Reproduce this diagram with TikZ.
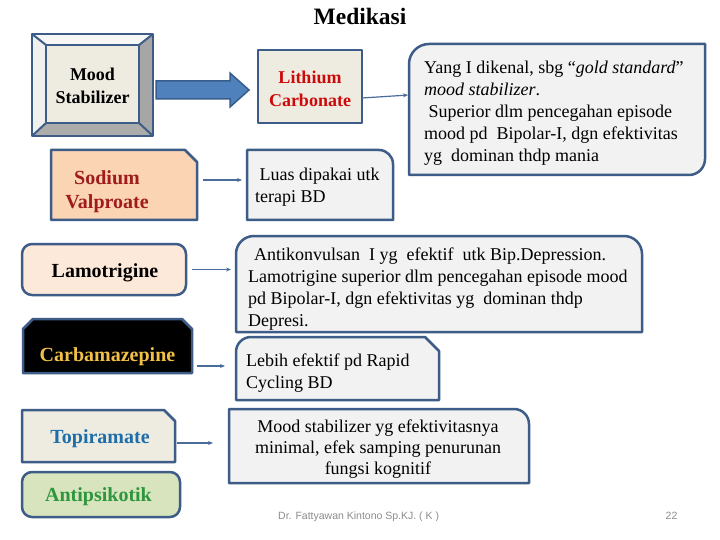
\documentclass[tikz,border=0pt]{standalone}
\usepackage{fontspec}
\setmainfont{Liberation Serif}
\newfontfamily\footfont{Liberation Sans}
\usetikzlibrary{calc,arrows.meta}
\definecolor{bord}{RGB}{61,92,135}
\definecolor{connc}{RGB}{74,108,152}
\definecolor{face}{RGB}{238,236,225}
\definecolor{lightbox}{RGB}{242,242,242}
\definecolor{peach}{RGB}{251,212,180}
\definecolor{peachlight}{RGB}{253,233,217}
\definecolor{greenbox}{RGB}{215,228,189}
\definecolor{bevlight}{RGB}{246,246,244}
\definecolor{bevlightb}{RGB}{240,240,238}
\definecolor{bevdark}{RGB}{166,166,166}
\definecolor{bevdarkb}{RGB}{172,172,170}
\definecolor{arrowfill}{RGB}{79,129,189}
\definecolor{arrowdraw}{RGB}{56,93,138}
\definecolor{lithred}{RGB}{204,10,10}
\definecolor{sodred}{RGB}{160,28,28}
\definecolor{carbgold}{RGB}{242,192,70}
\definecolor{topiblue}{RGB}{31,110,170}
\definecolor{antipgreen}{RGB}{46,150,60}
\definecolor{footc}{RGB}{140,140,140}
\begin{document}
\begin{tikzpicture}[x=1pt,y=-1pt,
  boxline/.style={draw=bord,line width=2.5pt,line join=round},
  anchorbox/.style={draw=none,inner sep=0pt,outer sep=0pt,rectangle},
  lbl/.style={font=\fontsize{18}{23}\selectfont\bfseries,align=center,inner sep=0pt},
  biglbl/.style={font=\fontsize{20}{24}\selectfont\bfseries,align=center,inner sep=0pt},
  txt/.style={font=\fontsize{18}{22}\selectfont,align=left,inner sep=0pt,anchor=north west},
  conn/.style={draw=connc,line width=1.2pt,-{Stealth[length=5pt,width=4pt]}},
  bigarrow/.style={fill=arrowfill,draw=arrowdraw,line width=1.5pt,line join=miter},
]
\fill[white] (0,0) rectangle (720,540);
\useasboundingbox (0,0) rectangle (720,540);

% ---------- anchor boxes ----------
\node[anchorbox,minimum width=121pt,minimum height=102pt] (msbox) at (92.5,85) {};
\node[anchorbox,minimum width=104pt,minimum height=73pt] (lithbox) at (310,86.5) {};
\node[anchorbox,minimum width=296pt,minimum height=131pt] (yangbox) at (557,109.5) {};
\node[anchorbox,minimum width=146pt,minimum height=70pt] (sodbox) at (124,185) {};
\node[anchorbox,minimum width=146pt,minimum height=70pt] (luasbox) at (320,185) {};
\node[anchorbox,minimum width=164pt,minimum height=51pt] (lamobox) at (104,269.5) {};
\node[anchorbox,minimum width=406pt,minimum height=96pt] (antibox) at (439,284) {};
\node[anchorbox,minimum width=169pt,minimum height=54pt] (carbbox) at (107.5,346) {};
\node[anchorbox,minimum width=203pt,minimum height=63pt] (lebihbox) at (337.5,368.5) {};
\node[anchorbox,minimum width=153pt,minimum height=52pt] (topibox) at (98.5,436) {};
\node[anchorbox,minimum width=300pt,minimum height=74pt] (minbox) at (379,446) {};
\node[anchorbox,minimum width=158pt,minimum height=45pt] (antipbox) at (101,494.5) {};

% ---------- Mood Stabilizer bevel ----------
\fill[bevlight] (32,34) -- (153,34) -- (139,45) -- (46,45) -- cycle;
\fill[bevlightb] (32,34) -- (46,45) -- (46,123) -- (32,136) -- cycle;
\fill[bevdark] (153,34) -- (153,136) -- (139,123) -- (139,45) -- cycle;
\fill[bevdarkb] (32,136) -- (153,136) -- (139,123) -- (46,123) -- cycle;
\fill[face] (46,45) rectangle (139,123);
\draw[boxline] (32,34) rectangle (153,136);
\draw[boxline,line width=2pt] (46,45) rectangle (139,123);
\draw[boxline,line width=2pt] (32,34) -- (46,45) (153,34) -- (139,45) (153,136) -- (139,123) (32,136) -- (46,123);

% ---------- box shapes ----------
\draw[boxline,fill=face] (258,50) rectangle (362,123);
\draw[boxline,fill=lightbox] (409,175) -- (409,64) .. controls (409,53) and (418,44) .. (429,44)
  -- (705,44) -- (705,159) .. controls (705,167.8) and (697.8,175) .. (689,175) -- cycle;
\draw[boxline,fill=peach] (51,150) -- (185,150) -- (197,162) -- (197,220) -- (51,220) -- cycle;
\draw[boxline,fill=lightbox] (247,150) -- (379,150) .. controls (386.7,150) and (393,156.3) .. (393,164)
  -- (393,220) -- (247,220) -- cycle;
\draw[boxline,fill=peachlight,rounded corners=10pt] (22,244) rectangle (186,295);
\draw[boxline,fill=lightbox] (236,332) -- (236,254) .. controls (236,244) and (244,236) .. (254,236)
  -- (624,236) .. controls (634,236) and (642,244) .. (642,254) -- (642,332) -- cycle;
\draw[boxline,fill=black] (23,373) -- (23,329) -- (33,319) -- (182,319) -- (192,329) -- (192,373) -- cycle;
\draw[boxline,fill=lightbox] (236,400) -- (236,352) .. controls (236,343.7) and (242.7,337) .. (251,337)
  -- (425,337) -- (439,351) -- (439,400) -- cycle;
\draw[boxline,fill=face] (22,410) -- (164,410) -- (175,421) -- (175,462) -- (22,462) -- cycle;
\draw[boxline,fill=lightbox] (229,409) -- (514,409) .. controls (522.3,409) and (529,415.7) .. (529,424)
  -- (529,483) -- (229,483) -- cycle;
\draw[boxline,fill=greenbox,rounded corners=10pt] (22,472) rectangle (180,517);

% ---------- big arrow ----------
\coordinate (bs) at ([xshift=3pt,yshift=-5pt]msbox.east);
\coordinate (bt) at ([xshift=-9pt]bs -| lithbox.west);
\draw[bigarrow] ($(bs)+(0,-9)$) -- ($(bt)+(-19,-9)$) -- ($(bt)+(-19,-17)$) -- (bt)
  -- ($(bt)+(-19,17)$) -- ($(bt)+(-19,9)$) -- ($(bs)+(0,9)$) -- cycle;

% ---------- connectors ----------
\draw[conn,shorten >=1pt] ([yshift=-11.5pt]lithbox.east) -- ([yshift=14.5pt]yangbox.west);
\draw[conn,shorten <=6pt,shorten >=5pt] ([yshift=5pt]sodbox.east) -- ([yshift=5pt]luasbox.west);
\draw[conn,shorten <=6pt,shorten >=5pt] (lamobox.east) -- (lamobox.east -| antibox.west);
\draw[conn,shorten <=5pt,shorten >=11pt] ([yshift=2.5pt]lebihbox.west -| carbbox.east) -- ([yshift=2.5pt]lebihbox.west);
\draw[conn,shorten <=2pt,shorten >=16pt] ([yshift=3pt]minbox.west -| topibox.east) -- ([yshift=3pt]minbox.west);

% ---------- texts ----------
\node[font=\fontsize{23.5}{28}\selectfont\bfseries,anchor=base,inner sep=0pt] (title) at (360,25) {Medikasi};
\node[lbl,anchor=north] (mstxt) at (92.5,67.7) {Mood\\Stabilizer};
\node[lbl,anchor=north,text=lithred] (lithtxt) at (310,70.7) {Lithium\\Carbonate};
\node[biglbl,anchor=north,text=sodred] (sodtxt) at (107,170.3) {Sodium\\Valproate};
\node[biglbl,anchor=base] (lamotxt) at (105,277) {Lamotrigine};
\node[biglbl,anchor=base,text=carbgold] (carbtxt) at (107.5,361) {Carbamazepine};
\node[biglbl,anchor=base,text=topiblue] (topitxt) at (100,443) {Topiramate};
\node[biglbl,anchor=base,text=antipgreen] (antiptxt) at (98.5,501) {Antipsikotik};

\node[txt] (yangtxt) at (424,60.7) {Yang I dikenal, sbg “\textit{gold standard}”\\
  \textit{mood stabilizer}.\\
  \hspace*{4.5pt}Superior dlm pencegahan episode\\
  mood pd\ \ Bipolar-I, dgn efektivitas\\
  yg\ \ dominan thdp mania};
\node[txt] (luastxt) at (255,167.7) {\hspace*{4.5pt}Luas dipakai utk\\terapi BD};
\node[txt] (antitxt) at (248,247.7) {\hspace*{6pt}Antikonvulsan\ \ I yg\ \ efektif\ \ utk Bip.Depression.\\
  Lamotrigine superior dlm pencegahan episode mood\\
  pd Bipolar-I, dgn efektivitas yg\ \ dominan thdp\\
  Depresi.};
\node[txt] (lebihtxt) at (246,353.7) {Lebih efektif pd Rapid\\Cycling BD};
\node[txt,align=center,anchor=north,font=\fontsize{18}{21}\selectfont] (mintxt) at (378,419.7)
  {Mood stabilizer yg efektivitasnya\\minimal, efek samping penurunan\\fungsi kognitif};

\node[font=\footfont\fontsize{10.5}{12}\selectfont,text=footc,anchor=base west,inner sep=0pt] (foot) at (278,519)
  {Dr. Fattyawan Kintono Sp.KJ. ( K )};
\node[font=\footfont\fontsize{10.5}{12}\selectfont,text=footc,anchor=base,inner sep=0pt] (pg) at (671.5,519) {22};
\end{tikzpicture}
\end{document}
